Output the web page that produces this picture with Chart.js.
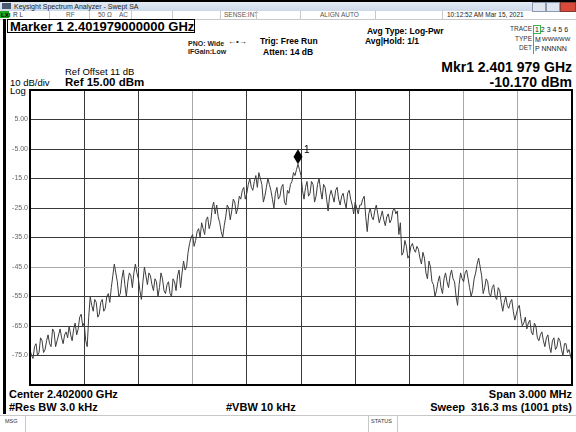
<!DOCTYPE html>
<html>
<head>
<meta charset="utf-8">
<script src="https://cdn.jsdelivr.net/npm/chart.js@4.4.1/dist/chart.umd.min.js"></script>
<style>
  html, body { margin: 0; padding: 0; }
  body { width: 576px; height: 432px; position: relative; overflow: hidden; background: #fff;
         font-family: 'Liberation Sans', Arial, sans-serif; color: #000; }
  .t { position: absolute; white-space: pre; line-height: 1; }
  .b { font-weight: bold; }
  #titlebar { position: absolute; left: 0; top: 0; width: 576px; height: 11px;
              background: linear-gradient(#e4ebf5, #cdd8e8); border-top: 2px solid #000; box-sizing: border-box; }
  #statusrow { position: absolute; left: 0; top: 11px; width: 576px; height: 8px; border-bottom: 1px solid #c8c8c8; }
  .sep { position: absolute; width: 1px; background: #c8c8c8; }
  #mkrbox { position: absolute; left: 7px; top: 19px; width: 188px; height: 14px; border: 1px solid #000; box-sizing: border-box; }
  #leftbar { position: absolute; left: 3px; top: 19px; width: 3px; height: 395px; background: #000; }
  #chartbox { position: absolute; left: 0; top: 0; width: 576px; height: 432px; }
</style>
</head>
<body>
<div id="titlebar"></div>
<div class="t" style="left:2px;top:3px;width:9px;height:6px;background:#4a5a70;"></div>
<div class="t" style="left:14px;top:3px;font-size:7px;color:#222;">Keysight Spectrum Analyzer - Swept SA</div>
<div class="t" style="left:532px;top:2px;width:12px;height:8px;background:#dfe6f0;border:1px solid #8a9ab0;"></div>
<div class="t" style="left:546px;top:2px;width:12px;height:8px;background:#dfe6f0;border:1px solid #8a9ab0;"></div>
<div class="t" style="left:560px;top:2px;width:14px;height:8px;background:#d9493a;border:1px solid #8a3a30;"></div>

<div id="statusrow"></div>
<div class="t" style="left:0;top:11px;width:9px;height:7px;background:#1fa21f;"></div>
<div class="t" style="left:1px;top:12px;font-size:6px;font-weight:bold;color:#000;">LXI</div>
<div class="t" style="left:13px;top:12px;font-size:6.5px;color:#333;">R L</div>
<div class="t" style="left:66px;top:12px;font-size:6.5px;color:#555;">RF</div>
<div class="t" style="left:98px;top:12px;font-size:6.5px;color:#555;">50 Ω</div>
<div class="t" style="left:119px;top:12px;font-size:6.5px;color:#555;">AC</div>
<div class="t" style="left:224px;top:12px;font-size:6.5px;color:#555;">SENSE:INT</div>
<div class="t" style="left:320px;top:12px;font-size:6.5px;color:#555;">ALIGN AUTO</div>
<div class="t" style="left:447px;top:12px;font-size:6.5px;color:#222;">10:12:52 AM Mar 15, 2021</div>
<div class="sep" style="left:49px;top:11px;height:8px;"></div>
<div class="sep" style="left:89px;top:11px;height:8px;"></div>
<div class="sep" style="left:131px;top:11px;height:8px;"></div>
<div class="sep" style="left:172px;top:11px;height:8px;"></div>
<div class="sep" style="left:220px;top:11px;height:8px;"></div>
<div class="sep" style="left:256px;top:11px;height:8px;"></div>
<div class="sep" style="left:300px;top:11px;height:8px;"></div>
<div class="sep" style="left:375px;top:11px;height:8px;"></div>
<div class="sep" style="left:442px;top:11px;height:8px;"></div>

<div id="leftbar"></div>
<div id="mkrbox"></div>
<div class="t b" style="left:10px;top:20px;font-size:13px;">Marker 1 2.401979000000 GHz</div>

<div class="t b" style="left:188px;top:40px;font-size:7px;color:#222;">PNO: Wide</div>
<div class="t b" style="left:188px;top:48px;font-size:7px;color:#222;">IFGain:Low</div>
<div class="t" style="left:228px;top:38px;font-size:8px;color:#222;">←•→</div>
<div class="t b" style="left:260px;top:37px;font-size:8.5px;">Trig: Free Run</div>
<div class="t b" style="left:263px;top:48px;font-size:8.5px;">Atten: 14 dB</div>
<div class="t b" style="left:367px;top:27px;font-size:8.5px;">Avg Type: Log-Pwr</div>
<div class="t b" style="left:365px;top:37px;font-size:8.5px;">Avg|Hold: 1/1</div>

<div class="t" style="left:510px;top:26px;font-size:6.5px;color:#333;">TRACE</div>
<div class="t" style="left:535px;top:26px;font-size:7px;color:#222;">1 2 3 4 5 6</div>
<div class="t" style="left:533px;top:25px;width:8px;height:9px;border:1px solid #39b54a;box-sizing:border-box;"></div>
<div class="t" style="left:515px;top:36px;font-size:6.5px;color:#333;">TYPE</div>
<div class="t" style="left:535px;top:36px;font-size:7px;color:#222;">M</div>
<div class="t" style="left:542px;top:36px;font-size:6px;color:#222;">WWWWW</div>
<div class="t" style="left:519px;top:45px;font-size:6.5px;color:#333;">DET</div>
<div class="t" style="left:535px;top:45px;font-size:7px;color:#222;">P NNNNN</div>
<div class="t" style="left:533px;top:34px;width:1px;height:20px;background:#39b54a;"></div>

<div class="t b" style="right:4px;top:60px;font-size:14px;text-align:right;">Mkr1 2.401 979 GHz</div>
<div class="t b" style="right:4px;top:75px;font-size:14px;text-align:right;">-10.170 dBm</div>

<div class="t" style="left:65px;top:67px;font-size:9.5px;">Ref Offset 11 dB</div>
<div class="t" style="left:10px;top:78px;font-size:9.5px;">10 dB/div</div>
<div class="t b" style="left:65px;top:77px;font-size:11.5px;">Ref 15.00 dBm</div>
<div class="t" style="left:10px;top:86px;font-size:9.5px;">Log</div>

<div class="t b" style="left:9px;top:389px;font-size:11px;">Center 2.402000 GHz</div>
<div class="t b" style="left:9px;top:402px;font-size:11px;">#Res BW 3.0 kHz</div>
<div class="t b" style="left:226px;top:402px;font-size:11px;">#VBW 10 kHz</div>
<div class="t b" style="right:4px;top:389px;font-size:11px;text-align:right;">Span 3.000 MHz</div>
<div class="t b" style="right:4px;top:402px;font-size:11px;text-align:right;">Sweep&nbsp;&nbsp;316.3 ms (1001 pts)</div>

<div class="t" style="left:0;top:415px;width:576px;height:1px;background:#c8c8c8;"></div>
<div class="sep" style="left:25px;top:416px;height:16px;"></div>
<div class="sep" style="left:368px;top:416px;height:16px;"></div>
<div class="sep" style="left:397px;top:416px;height:16px;"></div>
<div class="t" style="left:5px;top:419px;font-size:5.5px;color:#333;">MSG</div>
<div class="t" style="left:371px;top:419px;font-size:5.5px;color:#333;">STATUS</div>

<div id="chartbox"><canvas id="chart"></canvas></div>

<script>
'use strict';

/* ── Sweep setup ── */
const SPAN_START_MHZ = -1.5;   // offset from center 2.402 GHz
const SPAN_STOP_MHZ = 1.5;
const X_TICKS = [-1.5, -1.2, -0.9, -0.6, -0.3, 0, 0.3, 0.6, 0.9, 1.2, 1.5];
const Y_TICKS = [-85, -75, -65, -55, -45, -35, -25, -15, -5, 5, 15];
const Y_TICK_LABELS = ['', '-75.0', '-65.0', '-55.0', '-45.0', '-35.0', '-25.0', '-15.0', '-5.00', '5.00', ''];

const TRACE_DBM = [
  -73, -75, -76, -72, -71, -75, -74, -69, -70, -74, -73, -70, -68, -71, -72, -66, -67, -72, -70, -68,
  -66, -69, -71, -68, -67, -69, -65, -68, -70, -66, -64, -68, -66, -62, -61, -65, -64, -70, -72, -62,
  -55, -58, -60, -56, -57, -62, -61, -57, -56, -60, -59, -55, -54, -57, -52, -48, -44, -47, -50, -55,
  -54, -49, -46, -51, -55, -50, -47, -48, -52, -47, -44, -47, -49, -53, -56, -50, -45, -48, -51, -47,
  -48, -51, -53, -49, -50, -55, -52, -47, -49, -53, -54, -51, -50, -54, -55, -49, -50, -53, -48, -46,
  -52, -47, -43, -46, -45, -40, -37, -35, -34, -38, -36, -33, -32, -35, -30, -32, -34, -29, -28, -32,
  -30, -25, -23, -27, -24, -28, -30, -33, -35, -31, -28, -24, -25, -29, -26, -22, -23, -27, -25, -21,
  -22, -19, -18, -22, -20, -17, -15, -18, -19, -16, -14, -18, -13, -15, -17, -23, -21, -18, -15, -17,
  -19, -22, -25, -20, -18, -22, -21, -18, -17, -23, -24, -19, -20, -17, -16, -13, -14, -12, -10.17, -12,
  -14, -19, -22, -18, -16, -21, -20, -16, -17, -23, -21, -17, -15, -19, -22, -17, -18, -22, -26, -21,
  -19, -21, -23, -19, -18, -22, -24, -21, -20, -23, -25, -20, -19, -22, -24, -27, -23, -25, -27, -24,
  -24, -22, -21, -28, -33, -27, -25, -28, -29, -26, -24, -27, -30, -28, -26, -29, -31, -28, -27, -30,
  -29, -26, -25, -27, -26, -34, -30, -41, -40, -36, -38, -42, -41, -38, -37, -39, -40, -38, -39, -42,
  -44, -40, -42, -47, -49, -43, -45, -50, -51, -55, -53, -50, -48, -52, -54, -49, -47, -50, -52, -48,
  -46, -49, -50, -55, -58, -51, -47, -49, -50, -47, -46, -49, -52, -55, -53, -49, -47, -44, -42, -45,
  -48, -54, -52, -49, -50, -54, -55, -52, -51, -55, -56, -52, -53, -57, -60, -57, -55, -58, -59, -57,
  -56, -60, -63, -61, -59, -58, -62, -65, -64, -62, -66, -64, -63, -67, -68, -64, -65, -69, -70, -68,
  -67, -70, -72, -69, -68, -72, -74, -70, -69, -73, -72, -69, -70, -73, -75, -71, -71, -74, -73, -75,
  -77
];

const GRID_DARK = '#3a3a3a';
const GRID_LIGHT = '#a8a8a8';
const X_LIGHT_IDX = [3, 8, 9];
const Y_LIGHT_VAL = [-45];

const sweepStep = (SPAN_STOP_MHZ - SPAN_START_MHZ) / (TRACE_DBM.length - 1);
const tracePoints = TRACE_DBM.map((v, i) => ({ x: SPAN_START_MHZ + i * sweepStep, y: v }));

/* marker 1 sits on the trace maximum */
const markerPlugin = {
  id: 'marker1',
  afterDatasetsDraw(chart) {
    const { ctx, scales } = chart;
    let k = 0;
    TRACE_DBM.forEach((v, i) => { if (v > TRACE_DBM[k]) k = i; });
    const px = scales.x.getPixelForValue(tracePoints[k].x);
    const py = scales.y.getPixelForValue(tracePoints[k].y);
    ctx.save();
    ctx.fillStyle = '#000';
    ctx.beginPath();
    ctx.moveTo(px, py - 15);
    ctx.lineTo(px + 4.5, py - 7.5);
    ctx.lineTo(px, py);
    ctx.lineTo(px - 4.5, py - 7.5);
    ctx.closePath();
    ctx.fill();
    ctx.font = '10px "Liberation Sans", Arial, sans-serif';
    ctx.textBaseline = 'alphabetic';
    ctx.fillText('1', px + 6, py - 11);
    ctx.restore();
  },
};

/* thick black frame round the graticule */
const framePlugin = {
  id: 'frame',
  afterDraw(chart) {
    const { ctx, chartArea } = chart;
    const { left, top, right, bottom } = chartArea;
    ctx.save();
    ctx.strokeStyle = '#000';
    ctx.lineWidth = 2;
    ctx.strokeRect(left, top, right - left, bottom - top);
    ctx.restore();
  },
};

new Chart(document.getElementById('chart').getContext('2d'), {
  type: 'line',
  data: {
    datasets: [{
      label: 'Trace 1',
      data: tracePoints,
      borderColor: '#3c3c3c',
      borderWidth: 1,
      pointRadius: 0,
      tension: 0,
    }],
  },
  options: {
    responsive: true,
    maintainAspectRatio: false,
    animation: false,
    layout: { padding: { left: 4, top: 90, right: 4, bottom: 47 } },
    plugins: { legend: { display: false }, tooltip: { enabled: false } },
    scales: {
      x: {
        type: 'linear',
        min: SPAN_START_MHZ,
        max: SPAN_STOP_MHZ,
        afterBuildTicks(scale) { scale.ticks = X_TICKS.map(v => ({ value: v })); },
        afterFit(scale) { scale.height = 0; },
        ticks: { display: false },
        border: { display: false },
        grid: {
          drawTicks: false,
          color: ctx => (X_LIGHT_IDX.includes(ctx.index) ? GRID_LIGHT : GRID_DARK),
        },
      },
      y: {
        min: -85,
        max: 15,
        afterBuildTicks(scale) { scale.ticks = Y_TICKS.map(v => ({ value: v })); },
        afterFit(scale) { scale.width = 26; },
        border: { display: false },
        grid: {
          drawTicks: false,
          color: ctx => (ctx.tick && Y_LIGHT_VAL.includes(ctx.tick.value) ? GRID_LIGHT : GRID_DARK),
        },
        ticks: {
          padding: 2,
          color: '#666',
          font: { family: "'Liberation Sans', Arial, sans-serif", size: 7 },
          callback: (v, i) => Y_TICK_LABELS[i],
        },
      },
    },
  },
  plugins: [markerPlugin, framePlugin],
});
</script>
</body>
</html>
